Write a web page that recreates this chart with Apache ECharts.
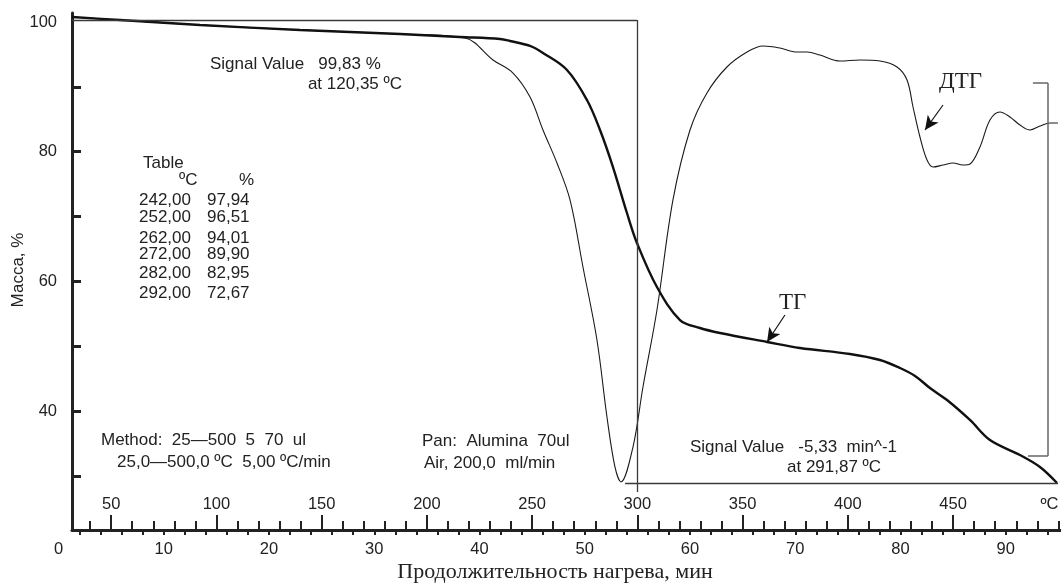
<!DOCTYPE html>
<html>
<head>
<meta charset="utf-8">
<script src="https://cdn.jsdelivr.net/npm/echarts@6/dist/echarts.min.js"></script>
<style>
  html, body { margin: 0; padding: 0; background: #fff; }
  #main { width: 1061px; height: 585px; }
</style>
</head>
<body>
<div id="main"></div>
<script>
// ТГ: время (мин) и масса (%)
const tgMin = [1.28, 5.84, 13.44, 22.95, 32.45, 38.15, 41.95, 42.90, 44.80, 46.03, 48.31, 50.21, 51.45, 52.68, 54.01, 54.96, 56.86, 59.05, 60.95, 62.85, 67.32, 70.45, 75.20, 78.05, 79.95, 81.38, 82.80, 84.42, 86.60, 88.50, 91.35, 93.25, 94.87]
const tgMass = [100.77, 100.31, 99.54, 98.77, 98.15, 97.69, 97.38, 97.07, 96.3, 95.22, 92.60, 87.97, 83.34, 77.63, 70.54, 65.91, 59.12, 54.03, 52.80, 52.03, 50.64, 49.71, 48.79, 47.86, 46.63, 45.40, 43.54, 41.69, 38.61, 35.52, 33.21, 31.36, 28.89]

// ДТГ (в тех же единицах шкалы рисунка)
const dtgMin = [1.28, 13.44, 22.95, 32.45, 38.62, 41.28, 43.18, 44.80, 46.03, 47.36, 48.60, 49.83, 51.16, 52.11, 52.87, 53.44, 54.58, 55.53, 56.86, 58.38, 60.00, 61.61, 63.51, 65.42, 66.94, 68.55, 70.17, 71.12, 72.34, 74.25, 76.15, 78.05, 79.67, 80.62, 81.19, 81.85, 82.52, 83.09, 84.04, 84.99, 85.94, 86.60, 87.55, 88.50, 89.45, 90.40, 91.35, 92.30, 93.25, 94.20, 94.96]
const dtgVal = [100.77, 99.54, 98.77, 98.15, 97.53, 94.14, 92.13, 88.43, 83.34, 78.25, 72.55, 62.21, 50.95, 39.07, 31.36, 29.05, 34.44, 43.70, 55.58, 72.55, 83.34, 89.05, 93.06, 95.37, 96.30, 95.99, 95.37, 95.37, 94.91, 93.98, 94.14, 93.98, 93.06, 91.05, 86.89, 82.26, 78.71, 77.63, 77.94, 78.25, 77.94, 78.10, 80.72, 84.88, 86.12, 85.35, 84.11, 83.34, 83.96, 84.42, 84.42]

// таблица на поле графика
const tableT = ['242,00', '252,00', '262,00', '272,00', '282,00', '292,00']
const tableM = ['97,94', '96,51', '94,01', '89,90', '82,95', '72,67']
const tableY = [200, 217, 238, 254, 273, 293]

// шкалы
const minTicks = []
for (let m = 2; m <= 94; m += 2) minTicks.push(m)
const minLabels = [0, 10, 20, 30, 40, 50, 60, 70, 80, 90]
const tMinor = []
for (let t = 40; t <= 500; t += 10) tMinor.push(t)
const tMajor = [50, 100, 150, 200, 250, 300, 350, 400, 450]
const massLabels = [40, 60, 80, 100]
const massTicks = [30, 40, 50, 60, 70, 80, 90]

// вспомогательные линии (маркеры Signal Value и скобка)
const cursorLines = [
  [[1.28, 100.31], [54.96, 100.31]],
  [[54.96, 100.31], [54.96, 27.5]],
  [[53.83, 28.89], [94.96, 28.89]]
]
const bracketLines = [
  [[92.58, 90.59], [94.01, 90.59]],
  [[94.01, 90.59], [94.01, 33.06]],
  [[92.11, 33.06], [94.01, 33.06]]
]
const arrows = [
  [[84.04, 87.20], [82.33, 83.34]],
  [[69.02, 54.80], [67.32, 50.64]]
]

const xMin = 1.28
const xMax = 95.25
const sans = '"Liberation Sans", Arial, sans-serif'
const serif = '"Liberation Serif", "Times New Roman", serif'

function zip (a, b) {
  return a.map((v, i) => [v, b[i]])
}

function txt (x, y, text, align, font) {
  return {
    type: 'text',
    x: x,
    y: y,
    style: {
      text: text,
      font: font || ('17px ' + sans),
      fill: '#222',
      align: align || 'left',
      verticalAlign: 'middle'
    }
  }
}

const yTitle = txt(18, 270, 'Масса, %', 'center')
yTitle.rotation = Math.PI / 2

const graphic = [
  yTitle,
  txt(210, 64, 'Signal Value   99,83 %'),
  txt(402, 84, 'at 120,35 ºC', 'right'),
  txt(143, 163, 'Table'),
  txt(179, 180, 'ºC'),
  txt(239, 180, '%'),
  txt(101, 440, 'Method:  25—500  5  70  ul'),
  txt(117, 462, '25,0—500,0 ºC  5,00 ºC/min'),
  txt(422, 441, 'Pan:  Alumina  70ul'),
  txt(424, 463, 'Air, 200,0  ml/min'),
  txt(690, 447, 'Signal Value   -5,33  min^-1'),
  txt(787, 467, 'at 291,87 ºC'),
  txt(939, 82, 'ДТГ', 'left', '23px ' + serif),
  txt(779, 303, 'ТГ', 'left', '23px ' + serif),
  txt(555, 572, 'Продолжительность нагрева, мин', 'center', '22px ' + serif)
]
for (let i = 0; i < tableT.length; i++) {
  graphic.push(txt(139, tableY[i], tableT[i]))
  graphic.push(txt(207, tableY[i], tableM[i]))
}

const myChart = echarts.init(document.getElementById('main'))

const axisFont = { color: '#222', fontSize: 16.5, fontFamily: sans }

const option = {
  backgroundColor: '#fff',
  animation: false,
  grid: [
    { left: 72, right: 0, top: 13, bottom: 55, outerBoundsMode: 'none' },
    { left: 58.5, right: 0, top: 13, bottom: 55, outerBoundsMode: 'none' }
  ],
  xAxis: [
    {
      // минуты: линия оси и засечки вниз
      type: 'value', gridIndex: 0, min: xMin, max: xMax,
      splitLine: { show: false },
      axisLine: { lineStyle: { color: '#222', width: 3 } },
      axisTick: { customValues: minTicks, length: 5, lineStyle: { color: '#222', width: 2 } },
      axisLabel: { show: false }
    },
    {
      // °C: мелкие засечки вверх
      type: 'value', gridIndex: 0, position: 'bottom',
      min: 25 + 5 * xMin, max: 25 + 5 * xMax,
      splitLine: { show: false },
      axisLine: { show: false },
      axisTick: { inside: true, customValues: tMinor, length: 9, lineStyle: { color: '#222', width: 2 } },
      axisLabel: { show: false }
    },
    {
      // °C: крупные засечки и подписи
      type: 'value', gridIndex: 0, position: 'bottom',
      min: 25 + 5 * xMin, max: 25 + 5 * xMax,
      splitLine: { show: false },
      axisLine: { show: false },
      axisTick: { inside: true, customValues: tMajor, length: 15, lineStyle: { color: '#222', width: 2 } },
      axisLabel: Object.assign({ inside: true, margin: 17, customValues: tMajor }, axisFont)
    },
    {
      type: 'value', gridIndex: 0, position: 'bottom',
      min: 25 + 5 * xMin, max: 25 + 5 * xMax,
      splitLine: { show: false },
      axisLine: { show: false },
      axisTick: { show: false },
      axisLabel: Object.assign({
        inside: true, margin: 17, customValues: [500], align: 'right',
        formatter: () => 'ºC'
      }, axisFont)
    },
    {
      // подписи минут (шкала начинается от 0 левее оси ординат)
      type: 'value', gridIndex: 1, min: 0, max: xMax,
      splitLine: { show: false },
      axisLine: { show: false },
      axisTick: { show: false },
      axisLabel: Object.assign({ customValues: minLabels, margin: 11 }, axisFont)
    }
  ],
  yAxis: [
    {
      type: 'value', gridIndex: 0, min: 21.64, max: 101.39,
      splitLine: { show: false },
      axisLine: { show: true, lineStyle: { color: '#222', width: 3 } },
      axisTick: { inside: true, customValues: massTicks, length: 9, lineStyle: { color: '#222', width: 3 } },
      axisLabel: Object.assign({ customValues: massLabels, margin: 15 }, axisFont)
    },
    {
      type: 'value', gridIndex: 1, min: 21.64, max: 101.39, show: false
    }
  ],
  series: [
    {
      name: 'ДТГ',
      type: 'line',
      xAxisIndex: 0, yAxisIndex: 0,
      data: zip(dtgMin, dtgVal),
      smooth: 0.35,
      symbol: 'none',
      lineStyle: { color: '#1a1a1a', width: 1.1 }
    },
    {
      name: 'ТГ',
      type: 'line',
      xAxisIndex: 0, yAxisIndex: 0,
      data: zip(tgMin, tgMass),
      smooth: 0.35,
      symbol: 'none',
      lineStyle: { color: '#111', width: 2.4 }
    },
    {
      name: 'marks',
      type: 'line',
      xAxisIndex: 0, yAxisIndex: 0,
      data: [],
      markLine: {
        silent: true,
        symbol: ['none', 'none'],
        label: { show: false },
        lineStyle: { color: '#3a3a3a', width: 1.3, type: 'solid' },
        data: cursorLines.map(l => [{ coord: l[0] }, { coord: l[1] }])
          .concat(bracketLines.map(l => [{ coord: l[0], lineStyle: { color: '#666', width: 1.5 } }, { coord: l[1] }]))
      }
    },
    {
      name: 'arrows',
      type: 'line',
      xAxisIndex: 0, yAxisIndex: 0,
      data: [],
      markLine: {
        silent: true,
        symbol: ['none', 'arrow'],
        symbolSize: [10, 14],
        label: { show: false },
        lineStyle: { color: '#111', width: 1.2, type: 'solid' },
        data: arrows.map(l => [{ coord: l[0] }, { coord: l[1] }])
      }
    }
  ],
  graphic: graphic
}

myChart.setOption(option)
</script>
</body>
</html>
